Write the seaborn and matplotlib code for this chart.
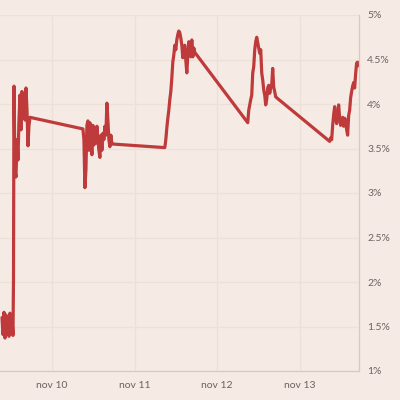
import matplotlib
matplotlib.use("Agg")
import matplotlib.pyplot as plt
import pandas as pd
import seaborn as sns

# hours since nov 9 00:00, yield in %
hours = [
    9.49, 9.78, 10.07, 10.36, 10.65, 10.94, 11.23, 11.52, 11.81, 12.10, 12.39, 12.68,
    12.83, 12.97, 13.26, 13.55, 13.84, 14.13, 14.42, 14.71, 15.00, 15.29, 15.58, 15.87,
    16.17, 16.46, 16.75, 17.04, 17.33, 17.62,
    33.00, 33.29, 33.58, 33.87, 34.16, 34.45, 34.74, 35.03, 35.32, 35.61, 35.90, 36.19,
    36.48, 36.77, 37.06, 37.35, 37.64, 37.93, 38.22, 38.51, 38.80, 39.09, 39.38, 39.67,
    39.96, 40.25, 40.54, 40.83, 41.12, 41.41, 41.70,
    56.79, 57.08, 57.37, 57.66, 57.95, 58.24, 58.53, 58.82, 59.11, 59.40, 59.69, 59.98,
    60.27, 60.56, 60.85, 61.14, 61.44, 61.73, 62.02, 62.31, 62.60, 62.89, 63.18, 63.47,
    63.76, 64.05, 64.34, 64.63, 64.92, 65.21, 65.50,
    80.88, 81.17, 81.46, 81.75, 82.04, 82.33, 82.62, 82.91, 83.20, 83.49, 83.78, 84.07,
    84.36, 84.65, 84.94, 85.23, 85.52, 85.81, 86.10, 86.39, 86.68, 86.97, 87.26, 87.55,
    87.84, 88.13, 88.42, 88.71, 89.00, 89.29,
    104.68, 104.97, 105.26, 105.55, 105.84, 106.13, 106.42, 106.71, 107.00, 107.29,
    107.58, 107.87, 108.16, 108.45, 108.74, 109.03, 109.32, 109.61, 109.90, 110.19,
    110.48, 110.77, 111.06, 111.35, 111.64, 111.93, 112.22, 112.51, 112.80, 113.00,
]
yields = [
    1.60, 1.41, 1.66, 1.37, 1.63, 1.46, 1.57, 1.39, 1.65, 1.42, 1.60, 1.40,
    2.02, 4.20, 3.26, 3.18, 3.60, 3.37, 3.82, 4.10, 3.71, 4.14, 3.88, 4.10,
    3.82, 4.18, 3.93, 3.53, 3.76, 3.85,
    3.72, 3.60, 3.06, 3.26, 3.76, 3.81, 3.48, 3.79, 3.60, 3.43, 3.76, 3.54,
    3.73, 3.56, 3.75, 3.60, 3.48, 3.40, 3.65, 3.48, 3.67, 3.60, 3.75, 3.65,
    4.01, 3.82, 3.60, 3.52, 3.65, 3.55, 3.55,
    3.51, 3.60, 3.73, 3.84, 3.93, 4.05, 4.14, 4.29, 4.47, 4.55, 4.66, 4.61,
    4.72, 4.78, 4.82, 4.80, 4.74, 4.66, 4.52, 4.63, 4.66, 4.49, 4.35, 4.55,
    4.70, 4.61, 4.53, 4.72, 4.53, 4.63, 4.58,
    3.79, 3.93, 3.99, 4.05, 4.10, 4.35, 4.42, 4.61, 4.70, 4.75, 4.69, 4.63,
    4.57, 4.61, 4.35, 4.27, 4.16, 4.10, 3.99, 4.05, 4.18, 4.21, 4.12, 4.18,
    4.21, 4.40, 4.19, 4.14, 4.08, 4.07,
    3.58, 3.62, 3.60, 3.76, 3.88, 3.97, 3.84, 3.78, 3.88, 3.99,
    3.84, 3.76, 3.82, 3.85, 3.75, 3.84, 3.82, 3.71, 3.65, 3.87,
    3.93, 4.07, 4.14, 4.20, 4.24, 4.18, 4.34, 4.46, 4.47, 4.43,
]

day_ticks = [24, 48, 72, 96]
day_labels = ["nov 10", "nov 11", "nov 12", "nov 13"]
pct_ticks = [1, 1.5, 2, 2.5, 3, 3.5, 4, 4.5, 5]
pct_labels = ["1%", "1.5%", "2%", "2.5%", "3%", "3.5%", "4%", "4.5%", "5%"]

BG = "#f6eae4"
GRID = "#ede0d6"
LINE = "#bf3a3a"
TEXT = "#6b6361"

sns.set_style("white")
plt.rcParams["font.family"] = ["Lato", "DejaVu Sans"]

df = pd.DataFrame({"hours": hours, "yield": yields})

fig = plt.figure(figsize=(4, 4), dpi=100, facecolor=BG)
ax = fig.add_axes([0.0, 29 / 400, 359 / 400, 356 / 400])
ax.set_facecolor(BG)

sns.lineplot(data=df, x="hours", y="yield", ax=ax, color=LINE, linewidth=2.3,
             estimator=None, sort=False)

ax.set_xlim(8.91, 113.2)
ax.set_ylim(1, 5)
ax.set_xticks(day_ticks)
ax.set_xticklabels(day_labels)
ax.set_yticks(pct_ticks)
ax.set_yticklabels(pct_labels)
ax.yaxis.tick_right()
ax.tick_params(axis="both", length=0, labelsize=7.5, labelcolor=TEXT)
ax.tick_params(axis="y", pad=6)
ax.tick_params(axis="x", pad=7)
ax.grid(True, color=GRID, linewidth=0.9)
ax.set_axisbelow(True)
ax.set_xlabel("")
ax.set_ylabel("")

for side in ["top", "left"]:
    ax.spines[side].set_visible(False)
ax.spines["bottom"].set_color("#d6cac3")
ax.spines["right"].set_color("#d6cac3")
ax.spines["bottom"].set_linewidth(0.9)
ax.spines["right"].set_linewidth(0.9)

fig.savefig("out.png", dpi=100, facecolor=BG)
